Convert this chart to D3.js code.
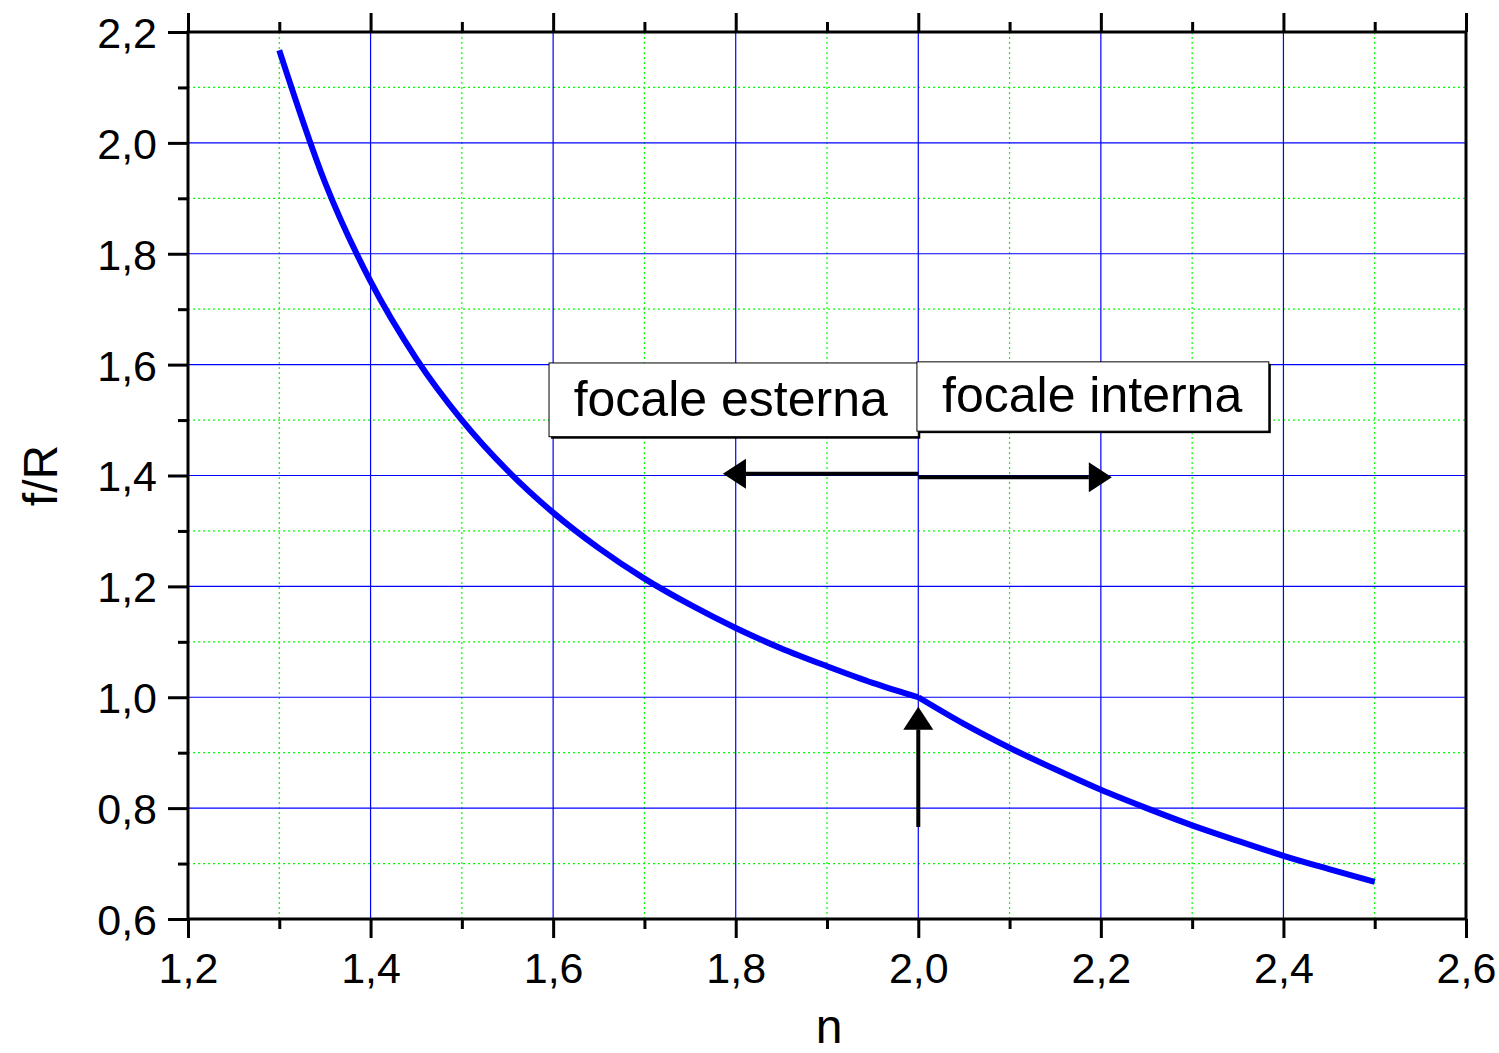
<!DOCTYPE html>
<html lang="it">
<head>
  <meta charset="UTF-8">
  <title>f/R vs n</title>
  <style>
    html, body {
      margin: 0;
      padding: 0;
      background-color: #fff;
    }

    text {
      font-family: "Liberation Sans", Arial, sans-serif;
      fill: #000;
    }

    .axis path,
    .axis line {
      stroke: #000;
      stroke-width: 3;
    }

    .grid-major line {
      stroke: #0000ff;
      stroke-width: 1.2;
    }

    .grid-minor line {
      stroke: #00ff00;
      stroke-width: 1.2;
      stroke-dasharray: 2, 3;
    }

    .curve {
      fill: none;
      stroke: #0000ff;
      stroke-width: 6;
    }

    .arrow-shaft {
      stroke: #000;
      stroke-width: 4;
    }

    .arrow-head {
      fill: #000;
    }

    .box {
      fill: #fff;
      stroke: #000;
      stroke-width: 1;
    }

    .box-shadow {
      fill: #000;
    }
  </style>
</head>
<body>
  <script src="https://cdn.jsdelivr.net/npm/d3@7"></script>
  <script>
    const width = 1499,
          height = 1053,
          margin = { top: 32, right: 33, bottom: 134, left: 188 }

    // values
    const nValues = [1.30, 1.35, 1.40, 1.45, 1.50, 1.55, 1.60, 1.65, 1.70, 1.75, 1.80, 1.85, 1.90,
                     1.95, 2.00, 2.05, 2.10, 2.15, 2.20, 2.25, 2.30, 2.35, 2.40, 2.45, 2.50]
    const fOverR = [2.167, 1.929, 1.750, 1.611, 1.500, 1.409, 1.333, 1.269, 1.214, 1.167, 1.125, 1.088, 1.056,
                    1.026, 1.000, 0.952, 0.909, 0.870, 0.833, 0.800, 0.769, 0.741, 0.714, 0.690, 0.667]

    const xMajorTicks = [1.2, 1.4, 1.6, 1.8, 2.0, 2.2, 2.4, 2.6]
    const xMinorTicks = [1.3, 1.5, 1.7, 1.9, 2.1, 2.3, 2.5]
    const yMajorTicks = [0.6, 0.8, 1.0, 1.2, 1.4, 1.6, 1.8, 2.0, 2.2]
    const yMinorTicks = [0.7, 0.9, 1.1, 1.3, 1.5, 1.7, 1.9, 2.1]

    const labels = ['focale esterna', 'focale interna']

    const fmt = d => d3.format('.1f')(d).replace('.', ',')

    const svg = d3.select('body')
      .append('svg')
      .attr('width', width)
      .attr('height', height)

    const x = d3.scaleLinear()
      .domain([1.2, 2.6])
      .range([margin.left, width - margin.right])

    const y = d3.scaleLinear()
      .domain([0.6, 2.2])
      .range([height - margin.bottom, margin.top])

    // grid: minor first, major on top
    const addGrid = (cls, xs, ys) => {
      const g = svg.append('g').attr('class', cls)
      g.selectAll('line.v')
          .data(xs)
        .enter()
          .append('line')
          .attr('class', 'v')
          .attr('x1', d => x(d)).attr('x2', d => x(d))
          .attr('y1', y(0.6)).attr('y2', y(2.2))
      g.selectAll('line.h')
          .data(ys)
        .enter()
          .append('line')
          .attr('class', 'h')
          .attr('y1', d => y(d)).attr('y2', d => y(d))
          .attr('x1', x(1.2)).attr('x2', x(2.6))
    }

    addGrid('grid-minor', xMinorTicks, yMinorTicks)
    addGrid('grid-major', xMajorTicks.slice(1, -1), yMajorTicks.slice(1, -1))

    // curve, drawn as two branches meeting at n = 2
    const points = nValues.map((n, i) => [n, fOverR[i]])
    const line = d3.line()
      .x(d => x(d[0]))
      .y(d => y(d[1]))
      .curve(d3.curveMonotoneX)

    const branches = [points.filter(p => p[0] <= 2.0), points.filter(p => p[0] >= 2.0)]

    svg.append('path')
      .attr('class', 'curve')
      .attr('stroke-linejoin', 'round')
      .attr('d', branches.map(line).join(''))

    // axes
    const addAxis = (axis, transform, withLabels) => {
      const g = svg.append('g')
        .attr('class', 'axis')
        .attr('transform', transform)
        .call(axis)
      g.select('.domain').remove()
      if (!withLabels) g.selectAll('text').remove()
      return g
    }

    const bottom = addAxis(d3.axisBottom(x).tickValues(xMajorTicks).tickSize(19).tickFormat(fmt),
      `translate(0,${y(0.6)})`, true)
    bottom.selectAll('text')
      .style('font-size', '43px')
      .attr('y', 33)
      .attr('dy', '0.71em')
    addAxis(d3.axisBottom(x).tickValues(xMinorTicks).tickSize(10), `translate(0,${y(0.6)})`, false)

    addAxis(d3.axisTop(x).tickValues(xMajorTicks).tickSize(19), `translate(0,${y(2.2)})`, false)
    addAxis(d3.axisTop(x).tickValues(xMinorTicks).tickSize(10), `translate(0,${y(2.2)})`, false)

    const left = addAxis(d3.axisLeft(y).tickValues(yMajorTicks).tickSize(20).tickFormat(fmt),
      `translate(${x(1.2)},0)`, true)
    left.selectAll('text')
      .style('font-size', '43px')
      .attr('x', -31)
      .attr('dy', '0.36em')
    addAxis(d3.axisLeft(y).tickValues(yMinorTicks).tickSize(10), `translate(${x(1.2)},0)`, false)

    // frame
    svg.append('rect')
      .attr('x', x(1.2))
      .attr('y', y(2.2))
      .attr('width', x(2.6) - x(1.2))
      .attr('height', y(0.6) - y(2.2))
      .attr('fill', 'none')
      .attr('stroke', '#000')
      .attr('stroke-width', 3)

    // axis titles
    svg.append('text')
      .attr('x', 829)
      .attr('y', 1043)
      .attr('text-anchor', 'middle')
      .style('font-size', '48px')
      .text('n')

    svg.append('text')
      .attr('transform', `translate(57,${(y(0.6) + y(2.2)) / 2}) rotate(-90)`)
      .attr('text-anchor', 'middle')
      .style('font-size', '48px')
      .text('f/R')

    // label boxes (data coordinates)
    const boxes = [
      { x0: 1.5955, x1: 2.000, y0: 1.603, y1: 1.470, tx: 1.6225, ty: 1.508 },
      { x0: 1.9985, x1: 2.384, y0: 1.605, y1: 1.480, tx: 2.026, ty: 1.515 }
    ]

    boxes.forEach((b, i) => {
      const bx = x(b.x0), by = y(b.y0), bw = x(b.x1) - x(b.x0), bh = y(b.y1) - y(b.y0)
      svg.append('rect')
        .attr('class', 'box-shadow')
        .attr('x', bx + 2).attr('y', by + 2)
        .attr('width', bw).attr('height', bh)
      svg.append('rect')
        .attr('class', 'box')
        .attr('x', bx).attr('y', by)
        .attr('width', bw).attr('height', bh)
      svg.append('text')
        .attr('x', x(b.tx))
        .attr('y', y(b.ty))
        .style('font-size', '50px')
        .text(labels[i])
    })

    // arrows: [from, to] in data coordinates
    const arrows = [
      [[2.0, 1.403], [1.786, 1.403]],
      [[2.0, 1.397], [2.212, 1.397]],
      [[2.0, 0.766], [2.0, 0.983]]
    ]

    const headLen = 23, headHalf = 15

    arrows.forEach(([from, to]) => {
      const x0 = x(from[0]), y0 = y(from[1]), x1 = x(to[0]), y1 = y(to[1])
      const len = Math.hypot(x1 - x0, y1 - y0)
      const ux = (x1 - x0) / len, uy = (y1 - y0) / len
      const bx = x1 - ux * headLen, by = y1 - uy * headLen

      svg.append('line')
        .attr('class', 'arrow-shaft')
        .attr('x1', x0).attr('y1', y0)
        .attr('x2', bx).attr('y2', by)

      svg.append('path')
        .attr('class', 'arrow-head')
        .attr('d', `M${x1},${y1}L${bx - uy * headHalf},${by + ux * headHalf}L${bx + uy * headHalf},${by - ux * headHalf}Z`)
    })
  </script>
</body>
</html>
